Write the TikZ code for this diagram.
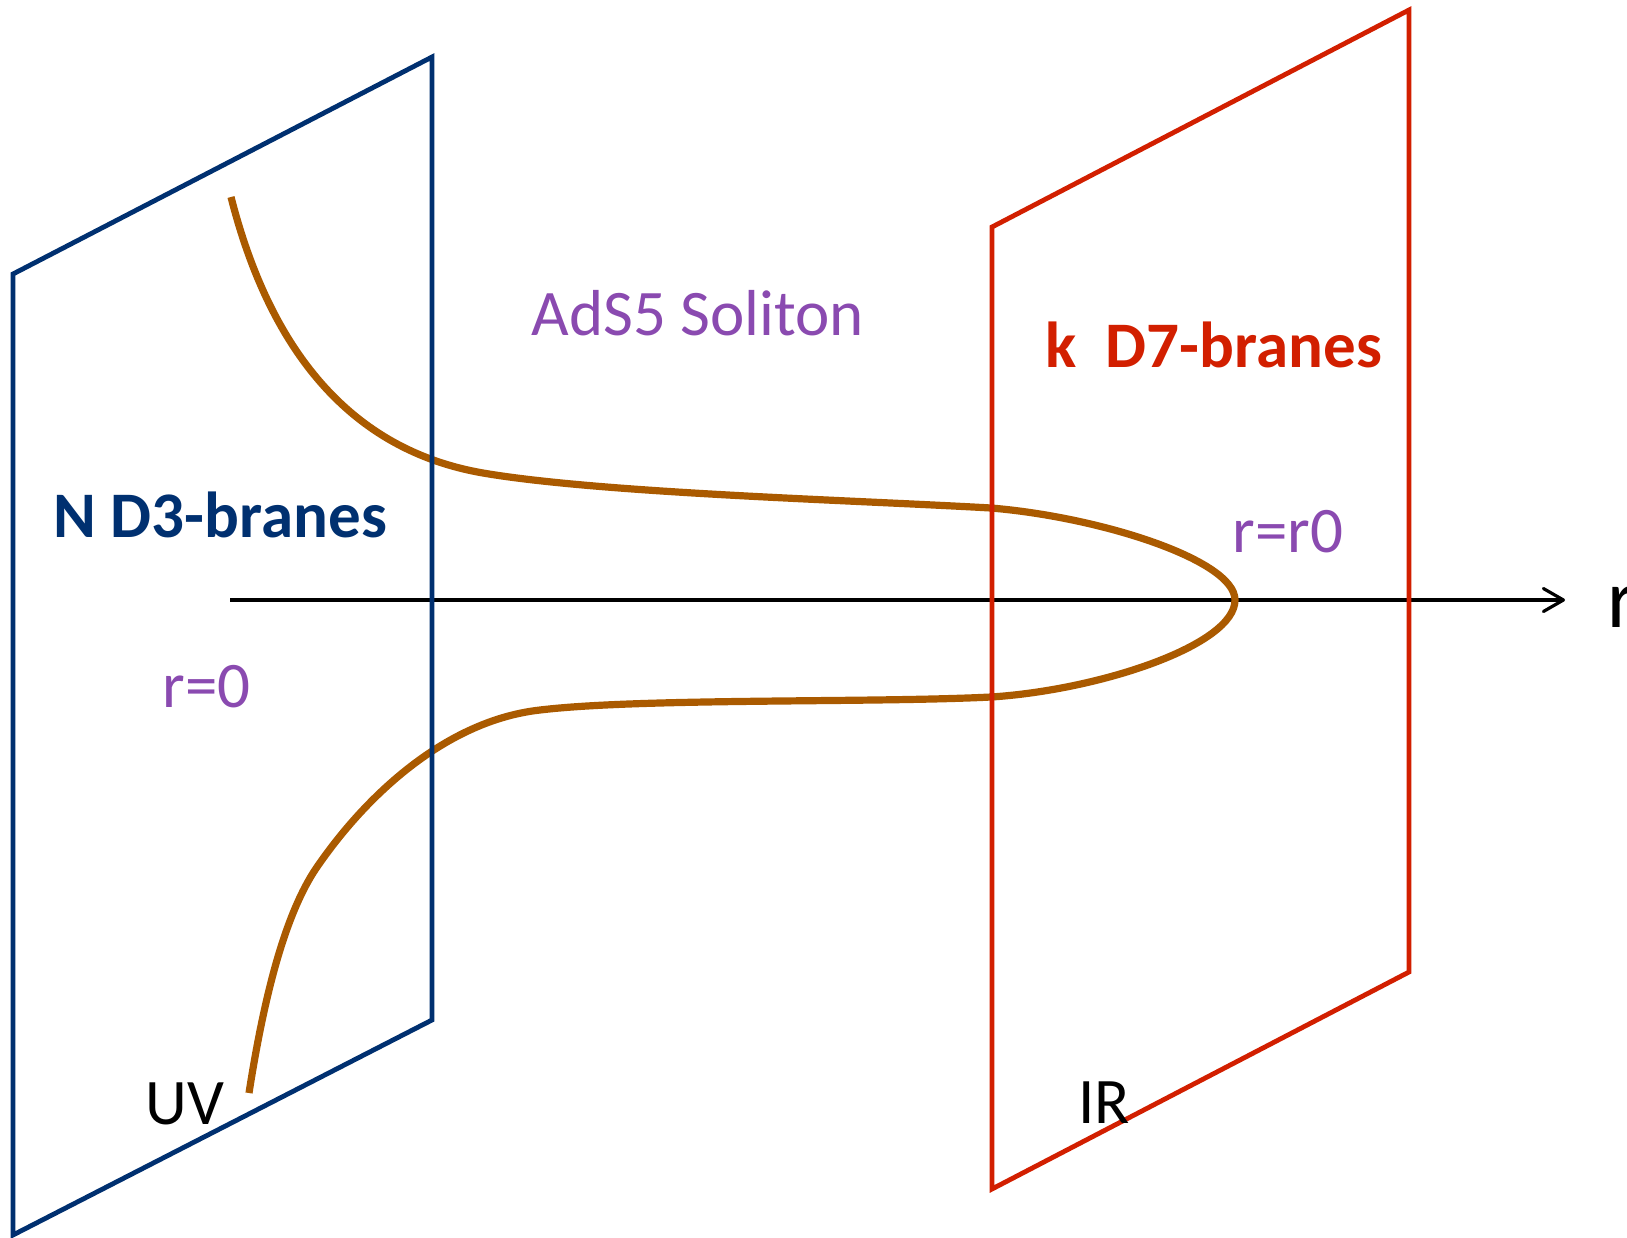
\documentclass[tikz,border=0pt]{standalone}
\usepackage{fontspec}
\setmainfont{Carlito}
\usepackage{xcolor}
\usepackage{tikz}
\usetikzlibrary{arrows.meta,calc,positioning}
\definecolor{BraneNavy}{HTML}{003070}
\definecolor{BraneRed}{HTML}{D21F00}
\definecolor{StringBrown}{HTML}{AA5A00}
\definecolor{LabelPurple}{HTML}{8A4AB0}
\tikzset{
  d3plane/.style={draw=BraneNavy, line width=2.4pt, line join=miter},
  d7plane/.style={draw=BraneRed, line width=2.4pt, line join=miter},
  stringcurve/.style={draw=StringBrown, line width=3.6pt},
  raxis/.style={draw=black, line width=1.6pt, -{Straight Barb[length=10pt,width=11.5pt,round]}},
  lbl/.style={inner sep=0pt, anchor=base west, font=\fontsize{32.5}{36}\selectfont},
  branelbl/.style={lbl, font=\fontsize{32.5}{36}\selectfont\bfseries},
  purplelbl/.style={lbl, text=LabelPurple}
}
\begin{document}
\begin{tikzpicture}[x=0.5pt,y=-0.5pt]
  \useasboundingbox (0,0) rectangle (1627,1237);

  \coordinate (axstart) at (230,600);
  \coordinate (axend) at (1565,600);
  \draw[raxis] (axstart) -- (axend);
  \node[lbl, font=\fontsize{42}{46}\selectfont] (rlab) at (1607,627) {r};

  \coordinate (uvtop) at (231,197);
  \coordinate (d7up) at (991,508);
  \coordinate (tip) at (1235,600);
  \coordinate (d7down) at (991,697);
  \coordinate (uvbot) at (249,1093);
  \draw[stringcurve] (uvtop) .. controls (270,350) and (350,450) .. (483,473)
    .. controls (600,493) and (850,500) .. (d7up)
    .. controls (1100,517) and (1235,560) .. (tip)
    .. controls (1235,645) and (1100,690) .. (d7down)
    .. controls (870,703) and (640,698) .. (540,710)
    .. controls (450,720) and (370,790) .. (317,867)
    .. controls (282,918) and (262,1010) .. (uvbot);

  \coordinate (d3bl) at (13,1235);
  \coordinate (d3tl) at (13,274);
  \coordinate (d3tr) at (432,57);
  \coordinate (d3br) at (432,1020);
  \draw[d3plane] (d3bl) -- (d3tl) -- (d3tr) -- (d3br) -- cycle;

  \coordinate (d7bl) at (992,1189);
  \coordinate (d7tl) at (992,227);
  \coordinate (d7tr) at (1409,10);
  \coordinate (d7br) at (1409,972);
  \draw[d7plane] (d7bl) -- (d7tl) -- (d7tr) -- (d7br) -- cycle;

  \node[branelbl, text=BraneNavy] (d3lab) at (53,537) {N D3-branes};
  \node[branelbl, text=BraneRed] (d7lab) at (1045,367) {k\ \ D7-branes};
  \node[purplelbl] (adslab) at (531,335) {AdS5 Soliton};
  \node[purplelbl] (rzero) at (162,707) {r=0};
  \node[purplelbl] (rrzero) at (1232,552) {r=r0};
  \node[lbl] (uvlab) at (145,1124) {UV};
  \node[lbl] (irlab) at (1078,1123) {IR};
\end{tikzpicture}
\end{document}
